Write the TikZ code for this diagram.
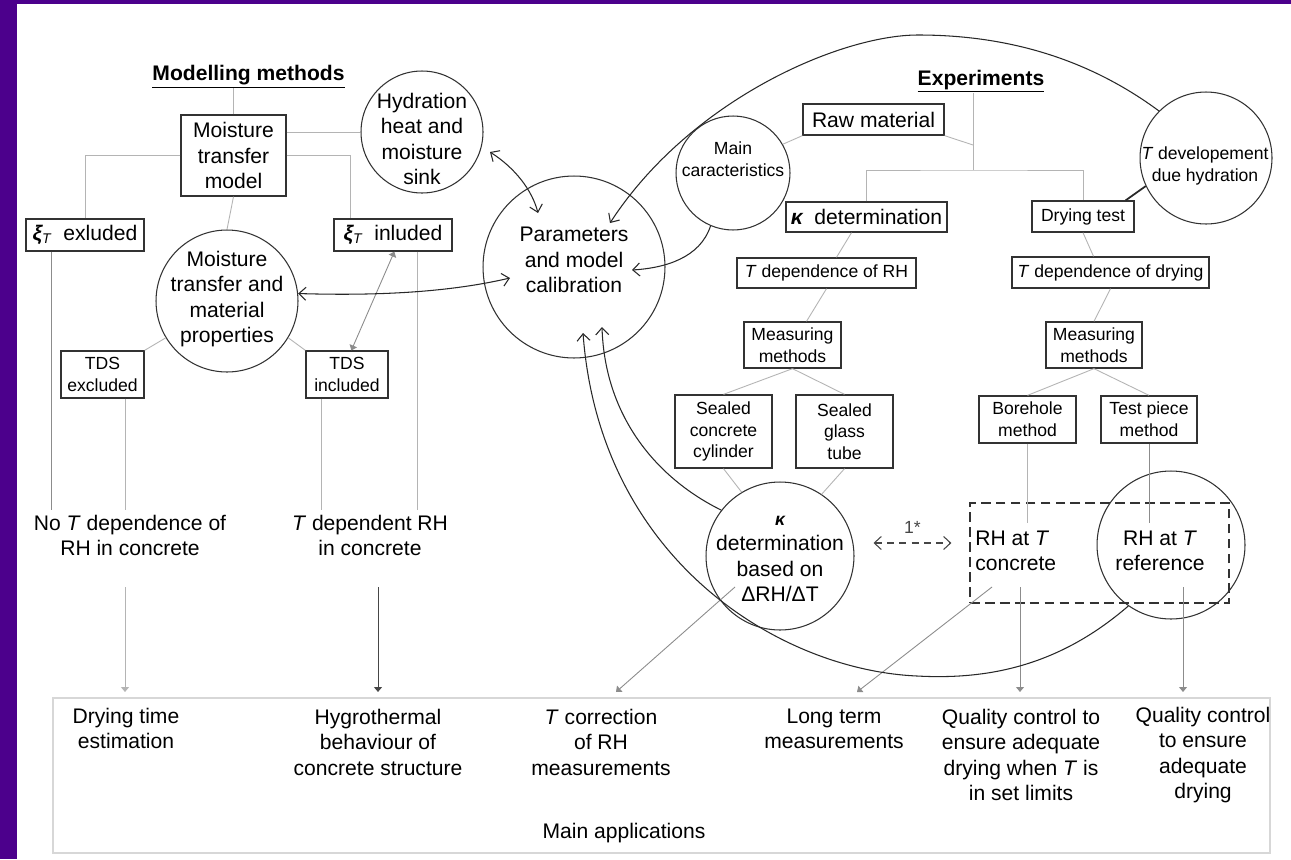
\documentclass[tikz,border=0pt]{standalone}
\usepackage{fontspec}
\setmainfont{Liberation Sans}
\usetikzlibrary{arrows.meta}
\usetikzlibrary{positioning}
\usetikzlibrary{calc}

\definecolor{framepurple}{RGB}{76,0,140}
\definecolor{boxline}{RGB}{50,50,50}
\definecolor{treeline}{RGB}{180,180,180}
\definecolor{midline}{RGB}{140,140,140}
\definecolor{curveline}{RGB}{40,40,40}
\definecolor{darkfeed}{RGB}{70,70,70}
\definecolor{applline}{RGB}{215,215,215}

\newcommand{\fontbig}{\fontsize{12}{14.5}\selectfont}
\newcommand{\fontsmall}{\fontsize{10}{12.3}\selectfont}
\newcommand{\kap}{{\bfseries\itshape κ}}
\newcommand{\xiT}{{\bfseries\itshape ξ}\textsubscript{\itshape T}}

\tikzset {
  % plain connectors of the two trees
  tree/.style = {
    draw = treeline,
    line width = 0.5pt
  },
  tree dark/.style = {
    tree,
    draw = midline
  },
  % gray arrow with a small filled head
  feed/.style = {
    tree,
    >={Triangle[length=1mm, width=1.6mm]},
    ->
  },
  thin two way/.style = {
    feed,
    <->
  },
  % curved links to the calibration bubble
  link/.style = {
    draw = curveline,
    line width = 0.6pt,
    >={Straight Barb[length=1.4mm, width=2.6mm]},
    ->
  },
  two way/.style = {
    link,
    <->
  },
  dark link/.style = {
    draw = curveline,
    line width = 1pt
  },
  dash link/.style = {
    link,
    draw = darkfeed,
    dash pattern = on 4pt off 3pt,
    <->
  }
}
\tikzset {
  box/.style = {
    draw = boxline,
    line width = 0.75pt,
    rectangle,
    inner sep = 0pt,
    align = center,
    font = \fontbig
  },
  % smaller print
  small box/.style = {
    box,
    font = \fontsmall
  },
  bubble/.style = {
    draw = boxline,
    line width = 0.6pt,
    circle,
    inner sep = 0pt
  },
  caption/.style = {
    align = center,
    inner sep = 0pt,
    font = \fontbig
  },
  heading/.style = {
    inner sep = 0pt,
    font = \fontbig\bfseries
  },
  dashed box/.style = {
    draw = boxline,
    line width = 0.75pt,
    dash pattern = on 5.5pt off 3pt,
    inner sep = 0pt
  }
}

\begin{document}
\begin{tikzpicture}[x=0.02cm, y=-0.02cm]
  \fill[framepurple] (0,0) rectangle (1291,859);
  \fill[white] (17,4) rectangle (1291,859);
  \useasboundingbox (0,0) rectangle (1291,859);

  % modelling side
  \node[heading, anchor=base] (model-head) at (248.5,80) {\underline{Modelling methods}};
  \node[box, minimum width=2.1cm, minimum height=1.62cm] (mtm) at (233.5,155.5) {Moisture\\transfer\\model};
  \node[bubble, minimum size=2.44cm] (hyd) at (422,132) {};
  \node[caption] (hyd-text) at (422,139) {Hydration\\heat and\\moisture\\sink};
  \node[box, minimum width=2.36cm, minimum height=0.64cm] (xi-ex) at (85,235) {\xiT\ \ exluded};
  \node[box, minimum width=2.36cm, minimum height=0.64cm] (xi-in) at (393,235) {\xiT\ \ inluded};
  \node[bubble, minimum size=2.84cm] (mtp) at (227,301) {};
  \node[caption] (mtp-text) at (227,299) {Moisture\\transfer and\\material\\properties};
  \node[small box, minimum width=1.66cm, minimum height=0.94cm] (tds-ex) at (102.5,374.5) {TDS\\excluded};
  \node[small box, minimum width=1.64cm, minimum height=0.94cm] (tds-in) at (347,374.5) {TDS\\included};
  \node[caption] (no-dep) at (130,535.5) {No \textit{T} dependence of\\RH in concrete};
  \node[caption] (t-dep) at (370,535.5) {\textit{T} dependent RH\\in concrete};

  % calibration
  \node[bubble, minimum size=3.64cm] (param) at (574,267) {};
  \node[caption] (param-text) at (574,260) {Parameters\\and model\\calibration};

  % experiments side
  \node[heading, anchor=base] (exp-head) at (981,85) {\underline{Experiments}};
  \node[box, minimum width=2.82cm, minimum height=0.62cm] (raw) at (873.5,119.5) {Raw material};
  \node[bubble, minimum size=2.28cm] (mainc) at (733,173) {};
  \node[caption, font=\fontsmall] (mainc-text) at (733,159) {Main\\caracteristics};
  \node[bubble, minimum size=2.64cm] (t-dev) at (1206,158) {};
  \node[caption, font=\fontsmall] (t-dev-text) at (1205,166) {\textit{T} developement\\due hydration};
  \node[box, minimum width=3.22cm, minimum height=0.6cm] (kdet) at (866.5,217) {\kap\ \ determination};
  \node[small box, minimum width=2.04cm, minimum height=0.62cm] (dry) at (1083,216.5) {Drying test};
  \node[small box, minimum width=3.58cm, minimum height=0.6cm] (tdep-rh) at (826.5,273) {\textit{T} dependence of RH};
  \node[small box, minimum width=3.94cm, minimum height=0.62cm] (tdep-dry) at (1110.5,272.5) {\textit{T} dependence of drying};
  \node[small box, minimum width=1.94cm, minimum height=0.92cm] (meas-l) at (792.5,345) {Measuring\\methods};
  \node[small box, minimum width=1.92cm, minimum height=0.92cm] (meas-r) at (1094,345) {Measuring\\methods};
  \node[small box, minimum width=1.94cm, minimum height=1.46cm] (sealed-cyl) at (723.5,431.5) {Sealed\\concrete\\cylinder};
  \node[small box, minimum width=1.94cm, minimum height=1.46cm] (sealed-tube) at (844.5,431.5) {Sealed\\glass\\tube};
  \node[small box, minimum width=1.94cm, minimum height=0.94cm] (borehole) at (1027.5,419.5) {Borehole\\method};
  \node[small box, minimum width=1.92cm, minimum height=0.94cm] (test-piece) at (1149,419.5) {Test piece\\method};
  \node[bubble, minimum size=2.96cm] (k-circ) at (780,556) {};
  \node[caption] (k-circ-text) at (780,559) {{\fontsize{10}{10}\selectfont\kap}\\determination\\based on\\ΔRH/ΔT};
  \node[dashed box, minimum width=5.18cm, minimum height=2cm] (rh-box) at (1099.5,553) {};
  \node[caption, align=left, anchor=west] (rh-conc) at (975,551) {RH at \textit{T}\\concrete};
  \node[bubble, minimum size=2.96cm] (rh-ref) at (1171,545) {};
  \node[caption] (rh-ref-text) at (1160,551) {RH at \textit{T}\\reference};

  % main applications
  \node[draw=applline, line width=0.8pt, inner sep=0pt, minimum width=24.34cm, minimum height=3.1cm] (apps) at (661.5,775.5) {};
  \node[caption] (dry-time) at (126,728.5) {Drying time\\estimation};
  \node[caption] (hygro) at (378,742) {Hygrothermal\\behaviour of\\concrete structure};
  \node[caption] (t-corr) at (601,742) {\textit{T} correction\\of RH\\measurements};
  \node[caption] (long-term) at (834,729) {Long term\\measurements};
  \node[caption] (qc-limits) at (1021,755) {Quality control to\\ensure adequate\\drying when \textit{T} is\\in set limits};
  \node[caption] (qc-dry) at (1203,755) {Quality control\\to ensure\\adequate\\drying};
  \node[caption] (apps-text) at (624,833) {Main applications};

  % modelling tree
  \draw[tree] (mtm.north) -- (mtm.north |- model-head.south);
  \draw[tree] (mtm.east |- hyd.west) -- (hyd.west);
  \draw[tree] (mtm.west) -| (xi-ex.north);
  \draw[tree] (mtm.east) -| ($(xi-in.north west)+(17,0)$);
  \draw[tree] (mtm.south) -- (mtp.north);
  \draw[tree] (mtp.211) -- (tds-ex.north east);
  \draw[tree] (mtp.329) -- (tds-in.north west);
  \draw[thin two way, draw=midline] ($(xi-in.south west)+(61,0)$) -- ($(tds-in.north west)+(46,0)$);
  \draw[tree dark] ($(xi-ex.south west)+(26,0)$) -- ++(0,258);
  \draw[tree] ($(tds-ex.south east)+(-19,0)$) -- ++(0,111);
  \draw[tree] ($(tds-in.south west)+(16,0)$) -- ++(0,111);
  \draw[tree] ($(xi-in.south east)+(-35,0)$) -- ++(0,258);

  % experiments tree
  \coordinate (trunk) at (973,170);
  \coordinate (raw-join) at (973,145);
  \draw[tree] (exp-head.south -| trunk) -- (trunk);
  \draw[tree] (kdet.north) |- (trunk) -| (dry.north);
  \draw[tree] (raw.south east) -- (raw-join);
  \draw[tree] (mainc.30) -- (raw.south west);
  \draw[dark link] (t-dev.205) -- ($(dry.north east)+(-9,0)$);
  \draw[tree] ($(kdet.south)+(-15,0)$) -- ($(tdep-rh.north)+(10,0)$);
  \draw[tree] (tdep-rh.south) -- ($(meas-l.north)+(14,0)$);
  \draw[tree] (meas-l.south) -- (sealed-cyl.north);
  \draw[tree] (meas-l.south) -- (sealed-tube.north);
  \draw[tree] (sealed-cyl.south) -- (k-circ.121);
  \draw[tree] (sealed-tube.south) -- (k-circ.56);
  \draw[tree] (dry.south) -- ($(tdep-dry.north)+(-17,0)$);
  \draw[tree] (tdep-dry.south) -- (meas-r.north);
  \draw[tree] (meas-r.south) -- (borehole.north);
  \draw[tree] (meas-r.south) -- (test-piece.north);
  \draw[tree] (borehole.south) -- ++(0,79);
  \draw[tree dark] (test-piece.south) -- ++(0,79);
  \draw[dash link] ($(k-circ.east)+(19,-13)$) -- node[above=2pt, font=\fontsmall, text=darkfeed] (one-star) {1*} ($(rh-box.west)+(-18,-10)$);

  % feeds to the applications
  \coordinate (tip-dry) at (125,692);
  \coordinate (tip-hygro) at (378,692);
  \coordinate (tip-corr) at (616,692);
  \coordinate (tip-long) at (857,692);
  \coordinate (tip-limits) at (1020,692);
  \coordinate (tip-drying) at (1183,692);
  \draw[feed] ($(tip-dry)+(0,-105)$) -- (tip-dry);
  \draw[feed, draw=darkfeed] ($(tip-hygro)+(0,-105)$) -- (tip-hygro);
  \draw[feed, draw=midline] ($(k-circ.center)+(-45,31)$) -- (tip-corr);
  \draw[feed, draw=midline] ($(rh-conc.west)+(17,36)$) -- (tip-long);
  \draw[feed, draw=midline] ($(tip-limits)+(0,-105)$) -- (tip-limits);
  \draw[feed, draw=midline] ($(tip-drying)+(0,-105)$) -- (tip-drying);

  % links into the calibration
  \coordinate (param-hyd) at ($(param.center)+(-36,-54)$);
  \coordinate (param-tdev) at ($(param.center)+(36,-44)$);
  \coordinate (param-main) at ($(param.center)+(58,3)$);
  \coordinate (param-mtp) at ($(param.center)+(-64,11)$);
  \coordinate (param-ref) at ($(param.center)+(9,66)$);
  \coordinate (param-kappa) at ($(param.center)+(28,60)$);
  \draw[two way] ($(hyd.center)+(68,20)$) .. controls (515,168) and (532,190) .. (param-hyd);
  \draw[two way] (mtp.6) .. controls (380,296) and (450,292) .. (param-mtp);
  \draw[link] (mainc.247) .. controls (700,258) and (665,268) .. (param-main);
  \draw[link] (t-dev.135) .. controls (1090,60) and (1010,35) .. (918,35) .. controls (840,35) and (690,100) .. (param-tdev);
  \draw[link] (k-circ.142) .. controls (660,480) and (605,420) .. (param-kappa);
  \draw[link] (rh-ref.235) .. controls (1060,665) and (990,680) .. (917,676) .. controls (780,670) and (600,560) .. (param-ref);
\end{tikzpicture}
\end{document}
